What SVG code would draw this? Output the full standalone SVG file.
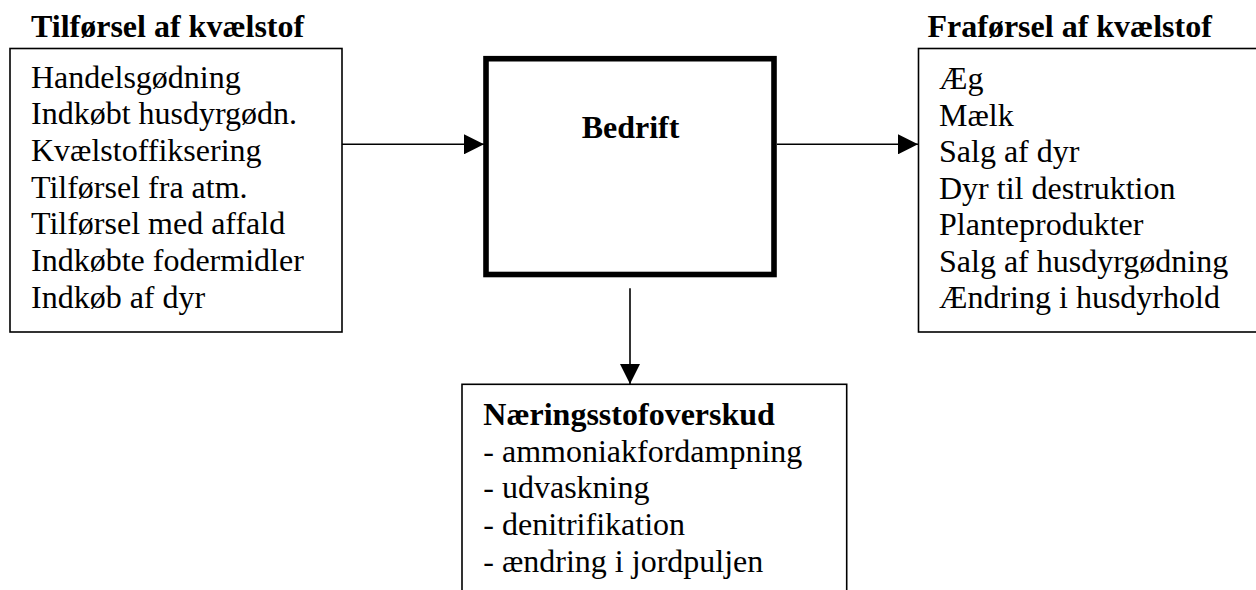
<svg xmlns="http://www.w3.org/2000/svg" width="1256" height="590" viewBox="0 0 1256 590">
<style>
text{font-family:"Liberation Serif","Times New Roman",serif;font-size:32px;fill:#000}
.b{font-weight:bold}
.box{fill:#fff;stroke:#000;stroke-width:1.6}
.main{fill:#fff;stroke:#000;stroke-width:5.6}
.conn{stroke:#000;stroke-width:1.6;fill:none}
</style>
<defs>
<marker id="ah" viewBox="0 0 20 20" refX="20" refY="10" markerWidth="20" markerHeight="20" markerUnits="userSpaceOnUse" orient="auto">
<path d="M0,0 L20,10 L0,20 Z" fill="#000"/>
</marker>
</defs>
<rect width="1256" height="590" fill="#fff"/>
<g id="tilfoersel">
<text class="b" x="31" y="37">Tilførsel af kvælstof</text>
<rect class="box" x="10" y="48.5" width="332" height="283.5"/>
<text x="31" y="87.5">Handelsgødning</text>
<text x="31" y="124.2">Indkøbt husdyrgødn.</text>
<text x="31" y="160.9">Kvælstoffiksering</text>
<text x="31" y="197.6">Tilførsel fra atm.</text>
<text x="31" y="234.3">Tilførsel med affald</text>
<text x="31" y="271">Indkøbte fodermidler</text>
<text x="31" y="307.7">Indkøb af dyr</text>
</g>
<g id="bedrift">
<rect class="main" x="486" y="58.7" width="288" height="215.8"/>
<text class="b" x="630.5" y="137.7" text-anchor="middle">Bedrift</text>
</g>
<g id="fraforsel">
<text class="b" x="927.5" y="37">Fraførsel af kvælstof</text>
<rect class="box" x="918.5" y="48.5" width="350" height="283.5"/>
<text x="939" y="89">Æg</text>
<text x="939" y="125.5">Mælk</text>
<text x="939" y="162">Salg af dyr</text>
<text x="939" y="198.5">Dyr til destruktion</text>
<text x="939" y="235">Planteprodukter</text>
<text x="939" y="271.5">Salg af husdyrgødning</text>
<text x="939" y="308">Ændring i husdyrhold</text>
</g>
<g id="overskud">
<rect class="box" x="462" y="384.3" width="384.7" height="220"/>
<text class="b" x="483.3" y="425">Næringsstofoverskud</text>
<text x="483.3" y="461.7">- ammoniakfordampning</text>
<text x="483.3" y="498.3">- udvaskning</text>
<text x="483.3" y="535">- denitrifikation</text>
<text x="483.3" y="572">- ændring i jordpuljen</text>
</g>
<g id="connectors">
<line class="conn" x1="342" y1="144.3" x2="484" y2="144.3" marker-end="url(#ah)"/>
<line class="conn" x1="777" y1="144.3" x2="918" y2="144.3" marker-end="url(#ah)"/>
<line class="conn" x1="630" y1="288.3" x2="630" y2="384" marker-end="url(#ah)"/>
</g>
</svg>
